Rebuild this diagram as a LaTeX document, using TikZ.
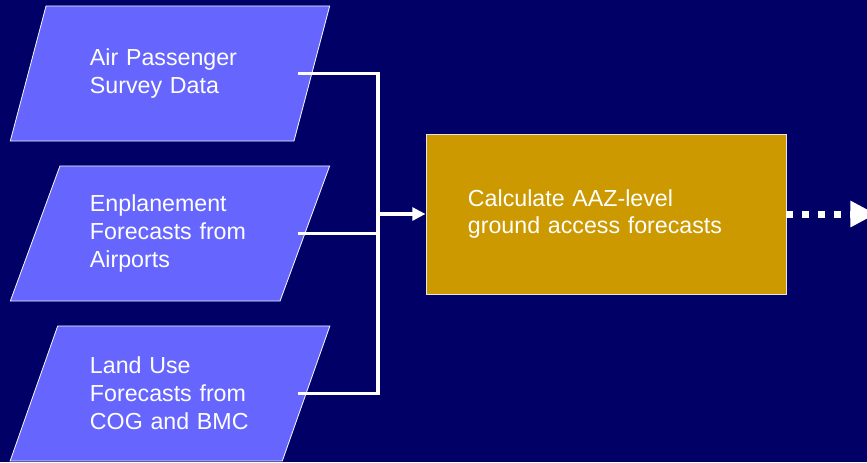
\documentclass[tikz,border=0pt]{standalone}
\usepackage{fontspec}
\setmainfont{Liberation Sans}
\usetikzlibrary{shapes.geometric,arrows.meta,calc}
\definecolor{navybg}{HTML}{000066}
\definecolor{inputblue}{HTML}{6666FF}
\definecolor{procgold}{HTML}{CC9900}
\tikzset{
    datainput/.style={trapezium,trapezium left angle=65,trapezium right angle=115,
        trapezium stretches=true,draw=white!90!gray,line width=0.6pt,fill=inputblue,
        text=white,minimum width=8cm,minimum height=3.375cm,text width=4cm,
        align=left,inner sep=0pt,font=\fontsize{16.5}{19.8}\selectfont},
    procbox/.style={rectangle,draw=white!80!gray,line width=0.6pt,fill=procgold,
        text=white,minimum width=9cm,minimum height=4cm,text width=6.9cm,
        align=left,font=\fontsize{16.5}{19.8}\selectfont},
    link/.style={draw=white,line width=2.5pt},
}

\begin{document}
\begin{tikzpicture}[x=0.025cm,y=-0.025cm]
\fill[navybg,use as bounding box] (0,0) rectangle (867,462);
\clip (0,0) rectangle (867,462);

% inputs
\node (in1) at (170,73.5) [datainput] {Air Passenger\\Survey Data};
\node (in2) at (170,233.5) [datainput] {Enplanement\\Forecasts from\\Airports};
\node (in3) at (170,393.5) [datainput] {Land Use\\Forecasts from\\COG and BMC};

% process
\node (calc) at (606,214) [procbox] {Calculate AAZ-level\\ground access forecasts};

% mid points of the slanted right sides
\coordinate (out1) at ($(in1.center)+(127.5,0)$);
\coordinate (out2) at ($(in2.center)+(127.5,0)$);
\coordinate (out3) at ($(in3.center)+(127.5,0)$);
\coordinate (bus) at (378,214);
\coordinate (out) at (876,214);

\draw[link] (out1) -| (bus);
\draw[link] (out3) -| (bus);
\draw[link] (out2) -- (out2 -| bus);
\draw[link,-{Triangle[length=0.33cm,width=0.32cm]}] (bus) -- (calc.west);

\draw[draw=white,line width=0.175cm,dash pattern=on 0.175cm off 0.225cm,
    -{Triangle[length=0.64cm,width=0.62cm]}] (calc.east) -- (out);
\end{tikzpicture}
\end{document}
